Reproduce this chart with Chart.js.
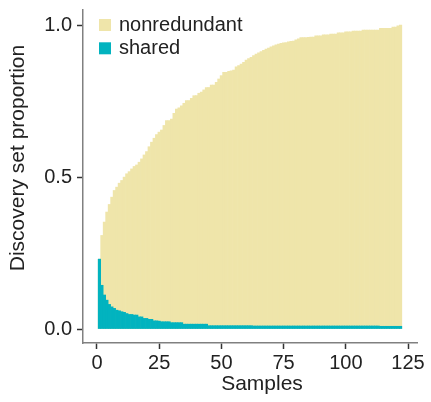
<!DOCTYPE html>
<html>
<head>
<meta charset="utf-8">
<script src="https://cdn.jsdelivr.net/npm/chart.js@4.4.1/dist/chart.umd.min.js"></script>
<style>
  html, body { margin: 0; padding: 0; background: #fff; }
</style>
</head>
<body>
<canvas id="discoveryChart" width="431" height="402"></canvas>
<script>
// cumulative discovery set, one bar per added sample
const samples = Array.from({ length: 122 }, (_, i) => i + 1);

// total proportion of the discovery set reached after each sample
const totalProportion = [
  0.230, 0.308, 0.352, 0.385, 0.410, 0.434, 0.456, 0.467, 0.480, 0.489,
  0.500, 0.511, 0.518, 0.527, 0.535, 0.540, 0.549, 0.560, 0.573, 0.584,
  0.600, 0.615, 0.628, 0.640, 0.648, 0.655, 0.670, 0.686, 0.686, 0.691,
  0.710, 0.724, 0.728, 0.735, 0.743, 0.752, 0.752, 0.759, 0.768, 0.768,
  0.776, 0.780, 0.787, 0.795, 0.795, 0.803, 0.803, 0.812, 0.823, 0.834,
  0.845, 0.845, 0.848, 0.850, 0.852, 0.863, 0.867, 0.872, 0.878, 0.885,
  0.890, 0.894, 0.900, 0.905, 0.909, 0.913, 0.917, 0.921, 0.925, 0.929,
  0.932, 0.935, 0.938, 0.940, 0.942, 0.943, 0.945, 0.947, 0.948, 0.952,
  0.955, 0.959, 0.959, 0.959, 0.960, 0.961, 0.961, 0.965, 0.965, 0.965,
  0.968, 0.968, 0.968, 0.971, 0.971, 0.971, 0.975, 0.975, 0.975, 0.978,
  0.978, 0.978, 0.981, 0.981, 0.981, 0.981, 0.984, 0.984, 0.984, 0.984,
  0.984, 0.984, 0.984, 0.990, 0.990, 0.990, 0.990, 0.990, 0.994, 0.994,
  0.998, 1.000
];

// part of the set that is shared
const sharedProportion = [
  0.230, 0.144, 0.112, 0.095, 0.081, 0.073, 0.068, 0.062, 0.060, 0.057,
  0.055, 0.051, 0.048, 0.048, 0.046, 0.046, 0.040, 0.040, 0.035, 0.035,
  0.032, 0.032, 0.027, 0.027, 0.026, 0.024, 0.024, 0.024, 0.024, 0.021,
  0.021, 0.021, 0.021, 0.021, 0.016, 0.016, 0.016, 0.016, 0.016, 0.016,
  0.016, 0.016, 0.016, 0.016, 0.011, 0.011, 0.011, 0.011, 0.011, 0.011,
  0.011, 0.011, 0.011, 0.011, 0.011, 0.011, 0.011, 0.011, 0.011, 0.011,
  0.011, 0.011, 0.010, 0.010, 0.010, 0.010, 0.010, 0.010, 0.010, 0.010,
  0.010, 0.010, 0.010, 0.010, 0.010, 0.010, 0.010, 0.010, 0.010, 0.010,
  0.010, 0.010, 0.010, 0.010, 0.010, 0.010, 0.010, 0.010, 0.010, 0.010,
  0.010, 0.010, 0.010, 0.010, 0.010, 0.010, 0.010, 0.010, 0.010, 0.010,
  0.010, 0.010, 0.010, 0.010, 0.010, 0.010, 0.010, 0.010, 0.010, 0.010,
  0.010, 0.010, 0.010, 0.009, 0.009, 0.009, 0.009, 0.009, 0.009, 0.009,
  0.009, 0.009
];

const xTicks = [0, 25, 50, 75, 100, 125];
const yTicks = [0, 0.5, 1.0];

const FONT = '"Liberation Sans", Arial, Helvetica, sans-serif';
const KHAKI = '#EFE5AA';
const TEAL = '#02B3BF';
const INK = '#222222';

// legend in the top-left corner of the panel plus the two axis titles
const annotate = {
  id: 'annotate',
  afterDraw(chart) {
    const ctx = chart.ctx;
    const area = chart.chartArea;
    ctx.save();
    ctx.font = '20px ' + FONT;
    ctx.textBaseline = 'alphabetic';
    ctx.textAlign = 'left';
    chart.data.datasets.forEach((ds, i) => {
      const base = area.top + 21 + i * 23.3;
      ctx.fillStyle = ds.backgroundColor;
      ctx.fillRect(area.left + 16, base - 12, 12, 12);
      ctx.fillStyle = INK;
      ctx.fillText(ds.label, area.left + 36, base);
    });

    ctx.font = '21px ' + FONT;
    ctx.textAlign = 'center';
    ctx.textBaseline = 'middle';
    ctx.fillText('Samples', 262, 384);
    ctx.translate(18, 158);
    ctx.rotate(-Math.PI / 2);
    ctx.fillText('Discovery set proportion', 0, 0);
    ctx.restore();
  }
};

const ctx = document.getElementById('discoveryChart').getContext('2d');
const discoveryChart = new Chart(ctx, {
  type: 'bar',
  data: {
    datasets: [{
      label: 'nonredundant',
      data: samples.map((s, i) => ({ x: s, y: totalProportion[i] })),
      backgroundColor: KHAKI,
      order: 2
    }, {
      label: 'shared',
      data: samples.map((s, i) => ({ x: s, y: sharedProportion[i] })),
      backgroundColor: TEAL,
      order: 1
    }]
  },
  options: {
    responsive: false,
    animation: false,
    datasets: {
      bar: {
        grouped: false,
        barPercentage: 1,
        categoryPercentage: 1,
        borderWidth: 0
      }
    },
    layout: {
      padding: { left: 0, right: 14, top: 10, bottom: 0 }
    },
    scales: {
      x: {
        type: 'linear',
        min: -5.6,
        max: 128.6,
        offset: false,
        afterBuildTicks: scale => { scale.ticks = xTicks.map(v => ({ value: v })); },
        afterFit: scale => {
          scale.height = 59;
          scale.paddingLeft = 0;
          scale.paddingRight = 0;
        },
        grid: {
          offset: false,
          drawOnChartArea: false,
          drawTicks: true,
          tickLength: 6,
          tickColor: '#333333',
          tickWidth: 1.5
        },
        border: { display: true, color: '#808080', width: 1.5 },
        ticks: {
          color: INK,
          font: { family: FONT, size: 20 },
          padding: 2,
          maxRotation: 0,
          autoSkip: false,
          callback: v => String(v)
        }
      },
      y: {
        type: 'linear',
        min: -0.046,
        max: 1.05,
        afterBuildTicks: scale => { scale.ticks = yTicks.map(v => ({ value: v })); },
        afterFit: scale => {
          scale.width = 83;
          scale.paddingTop = 0;
          scale.paddingBottom = 0;
        },
        grid: {
          drawOnChartArea: false,
          drawTicks: true,
          tickLength: 6,
          tickColor: '#333333',
          tickWidth: 1.5
        },
        border: { display: true, color: '#808080', width: 1.5 },
        ticks: {
          color: INK,
          font: { family: FONT, size: 20 },
          padding: 5,
          autoSkip: false,
          callback: v => v.toFixed(1)
        }
      }
    },
    plugins: {
      legend: { display: false },
      tooltip: { enabled: false }
    }
  },
  plugins: [annotate]
});
</script>
</body>
</html>
